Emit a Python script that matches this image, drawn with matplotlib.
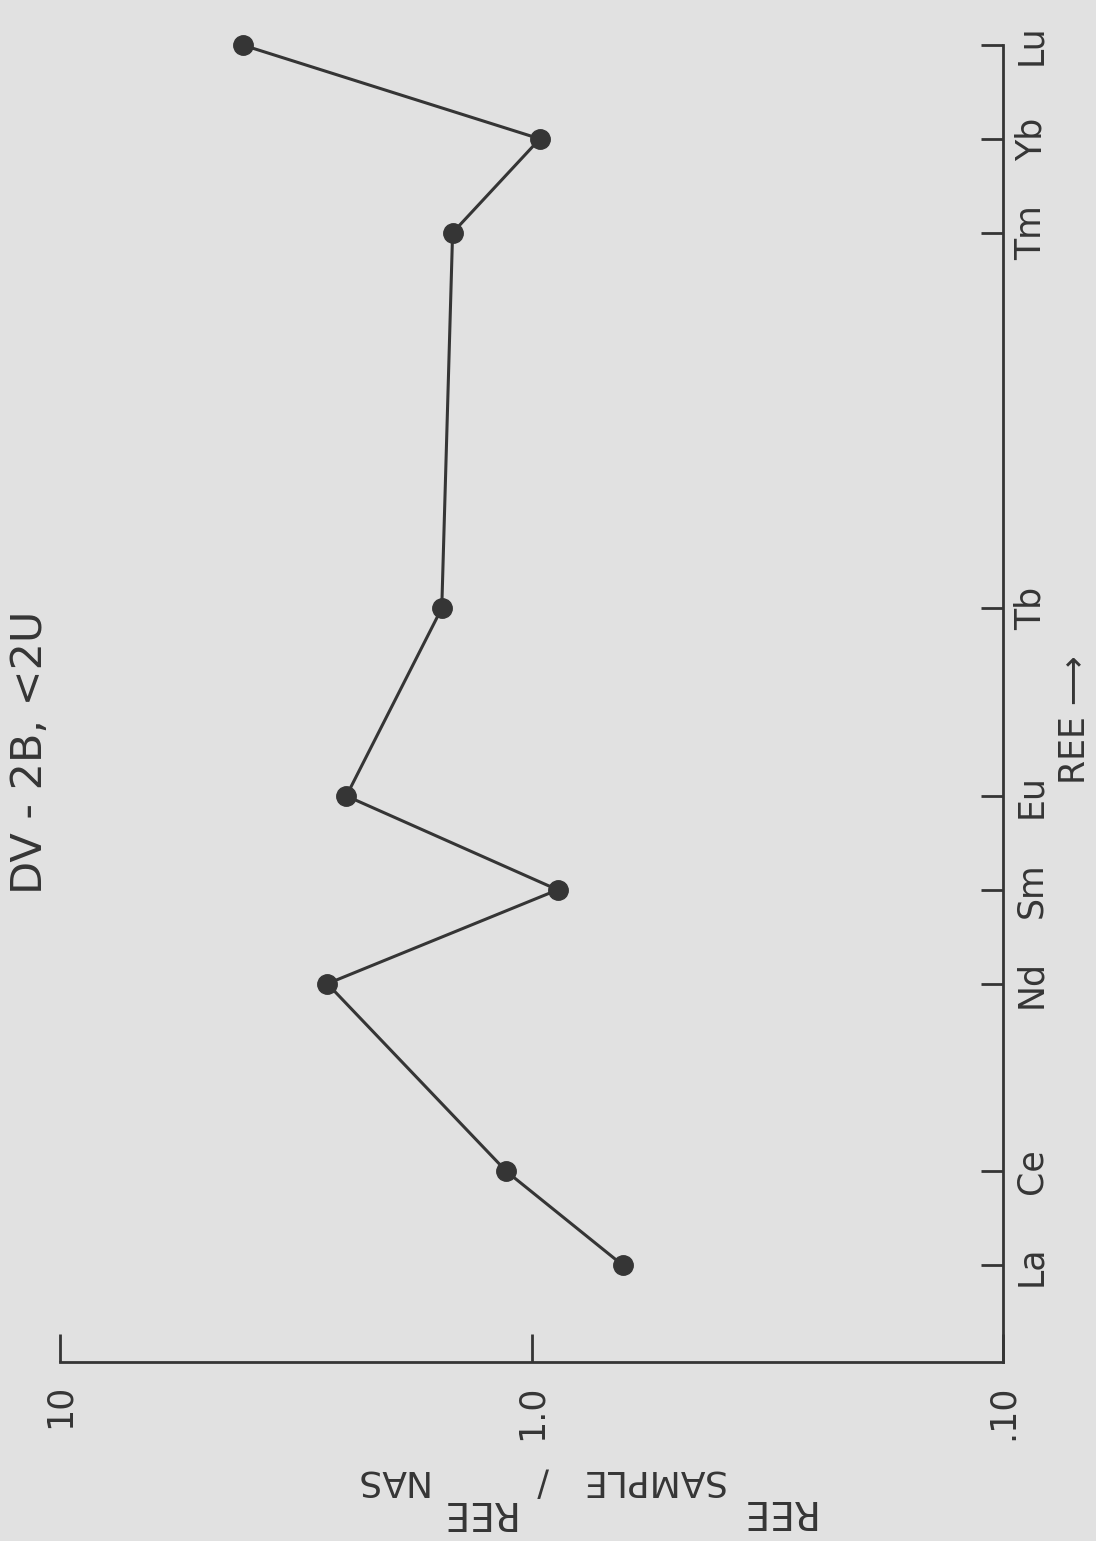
import matplotlib
matplotlib.use('Agg')
import matplotlib.pyplot as plt

plt.rcParams['font.family'] = ['DejaVu Sans']

# REE pattern (figure is drawn rotated 90 degrees, as in the scan)
elements = ['La', 'Ce', 'Nd', 'Sm', 'Eu', 'Tb', 'Tm', 'Yb', 'Lu']
positions = [0, 1, 3, 4, 5, 7, 11, 12, 13]   # La..Lu sequence without Pm
ratios = [0.64, 1.13, 2.71, 0.88, 2.47, 1.55, 1.47, 0.96, 4.1]
value_ticks = [10, 1.0, 0.1]
value_labels = ['10', '1.0', '.10']

ink = '#353535'
bg = '#e1e1e1'

fig = plt.figure(figsize=(10.96, 15.41), dpi=100, facecolor=bg)
ax = fig.add_axes([60/1096, 1 - 1362/1541, (1003-60)/1096, (1362-45)/1541])
ax.set_facecolor(bg)

ax.plot(ratios, positions, '-o', color=ink, lw=2.2, markersize=14, clip_on=False)

ax.set_xscale('log')
ax.set_xlim(10, 0.1)
ax.set_ylim(-1.03, 13)

for s in ['top', 'left']:
    ax.spines[s].set_visible(False)
for s in ['bottom', 'right']:
    ax.spines[s].set_color(ink)
    ax.spines[s].set_linewidth(2)

ax.set_xticks(value_ticks)
ax.set_xticklabels(value_labels, rotation=90, fontsize=25, color=ink)
ax.xaxis.set_minor_locator(plt.NullLocator())
ax.tick_params(axis='x', direction='in', length=20, width=2, color=ink, pad=16)

ax.yaxis.tick_right()
ax.set_yticks(positions)
ax.set_yticklabels(elements, rotation=90, fontsize=25, color=ink, va='center')
ax.tick_params(axis='y', direction='in', length=16, width=2, color=ink, pad=8)

fig.text(30/1096, 1 - 752/1541, 'DV - 2B, <2U', rotation=90, fontsize=31,
         color=ink, ha='center', va='center')
fig.text(1075/1096, 1 - 720/1541, 'REE \u27f6', rotation=90, fontsize=25,
         color=ink, ha='center', va='center')

# value-axis label, upside down with its subscripts
label_parts = [('REE', 776, 1511, 28), ('SAMPLE', 652, 1481, 26), ('/', 543, 1482, 25),
               ('REE', 476, 1512, 28), ('NAS', 389, 1481, 26)]
for txt, px, py, fs in label_parts:
    fig.text(px/1096, 1 - py/1541, txt, rotation=180, fontsize=fs, color=ink,
             ha='center', va='center')

fig.savefig('out.png', dpi=100, facecolor=bg)
